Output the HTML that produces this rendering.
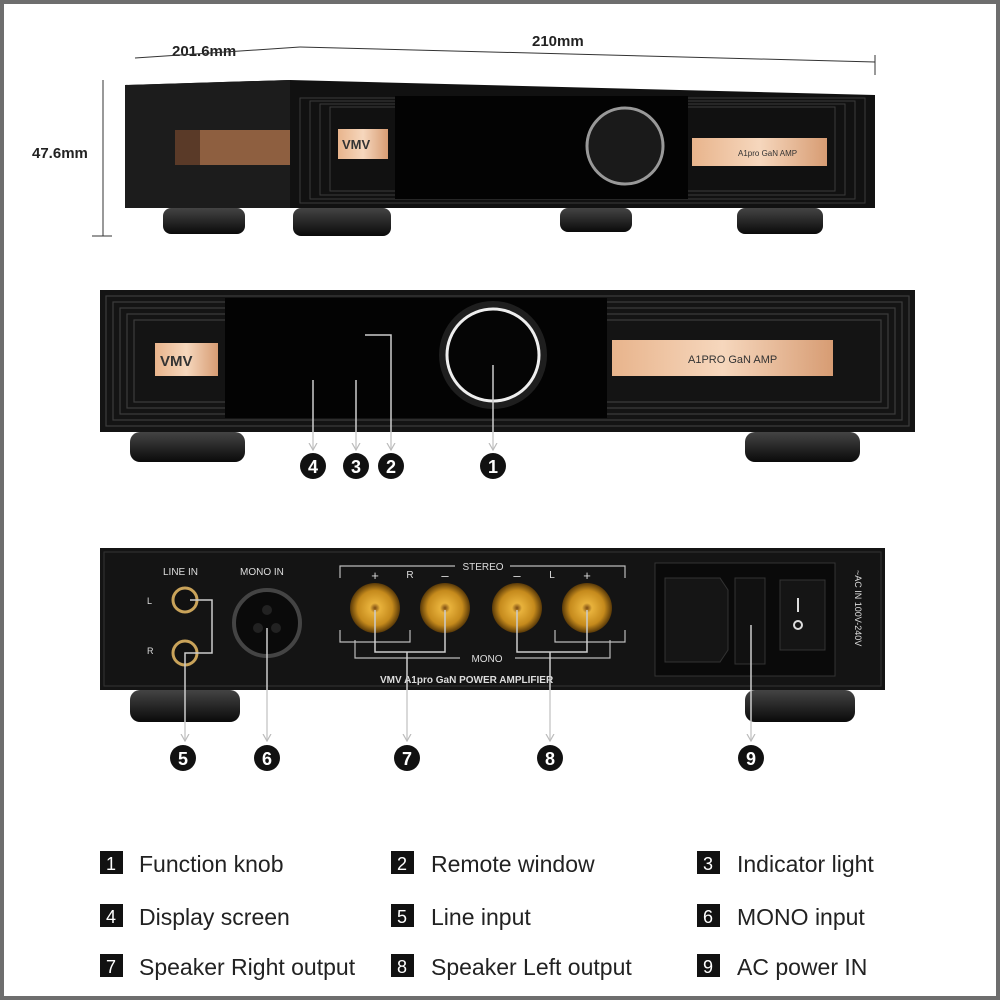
<!DOCTYPE html>
<html><head><meta charset="utf-8"><style>
html,body{margin:0;padding:0;background:#fff}
svg{display:block}
text{font-family:"Liberation Sans",sans-serif}
</style></head><body>
<svg width="1000" height="1000" viewBox="0 0 1000 1000" xmlns="http://www.w3.org/2000/svg">
<defs>
<linearGradient id="gold" x1="0" y1="0" x2="1" y2="0"><stop offset="0" stop-color="#e8b48c"/><stop offset="0.5" stop-color="#f6d7bd"/><stop offset="1" stop-color="#d79c73"/></linearGradient>
<radialGradient id="post" cx="0.5" cy="0.5" r="0.5"><stop offset="0" stop-color="#7a4a12"/><stop offset="0.2" stop-color="#e8b23c"/><stop offset="0.7" stop-color="#c58a1c"/><stop offset="1" stop-color="#5a3a08"/></radialGradient>
<linearGradient id="foot" x1="0" y1="0" x2="0" y2="1"><stop offset="0" stop-color="#444"/><stop offset="1" stop-color="#0a0a0a"/></linearGradient>
<marker id="ar" markerWidth="8" markerHeight="10" refX="7" refY="5" orient="auto" markerUnits="userSpaceOnUse"><path d="M0,1 L7,5 L0,9" fill="none" stroke="#bbb" stroke-width="1.2"/></marker>
</defs>
<rect x="0" y="0" width="1000" height="1000" fill="#fff"/>
<rect x="2" y="2" width="996" height="996" fill="none" stroke="#6e6e6e" stroke-width="4"/>

<!-- dimensions -->
<text x="172" y="56" font-size="15" font-weight="bold" fill="#222">201.6mm</text>
<text x="532" y="46" font-size="15" font-weight="bold" fill="#222">210mm</text>
<text x="32" y="158" font-size="15" font-weight="bold" fill="#222">47.6mm</text>
<line x1="300" y1="47" x2="875" y2="62" stroke="#333" stroke-width="1"/>
<line x1="875" y1="55" x2="875" y2="75" stroke="#333"/>
<line x1="135" y1="58" x2="300" y2="47" stroke="#333"/>
<line x1="103" y1="80" x2="103" y2="236" stroke="#333"/>
<line x1="92" y1="236" x2="112" y2="236" stroke="#333"/>

<!-- top device -->
<polygon points="125,85 290,80 875,95 875,208 290,208 125,208" fill="#111"/>
<polygon points="125,85 290,80 290,208 125,208" fill="#1c1c1c"/>
<rect x="175" y="130" width="115" height="35" fill="#5a3a28"/>
<rect x="200" y="130" width="90" height="35" fill="#b07850" opacity="0.6"/>
<g fill="none" stroke="#3a3a3a" stroke-width="1">
<rect x="300" y="98" width="565" height="105"/><rect x="310" y="101" width="545" height="98"/><rect x="320" y="104" width="525" height="91"/><rect x="330" y="107" width="505" height="84"/>
</g>
<rect x="395" y="96" width="293" height="103" fill="#030303"/>
<circle cx="625" cy="146" r="38" fill="#1a1a1a" stroke="#999" stroke-width="3"/>
<rect x="338" y="129" width="50" height="30" fill="url(#gold)"/>
<text x="342" y="149" font-size="13" font-weight="bold" fill="#333">VMV</text>
<rect x="692" y="138" width="135" height="28" fill="url(#gold)"/>
<text x="738" y="156" font-size="8" fill="#333">A1pro GaN AMP</text>
<g fill="url(#foot)">
<rect x="163" y="208" width="82" height="26" rx="8"/><rect x="293" y="208" width="98" height="28" rx="8"/><rect x="560" y="208" width="72" height="24" rx="8"/><rect x="737" y="208" width="86" height="26" rx="8"/>
</g>

<!-- middle device -->
<rect x="100" y="290" width="815" height="142" fill="#141414"/>
<g fill="none" stroke="#3c3c3c" stroke-width="1.2">
<rect x="106" y="296" width="803" height="130"/><rect x="113" y="302" width="789" height="118"/><rect x="120" y="308" width="775" height="106"/><rect x="127" y="314" width="761" height="94"/><rect x="134" y="320" width="747" height="82"/>
</g>
<rect x="225" y="298" width="382" height="120" fill="#030303"/>
<circle cx="493" cy="355" r="54" fill="#1e1e1e"/>
<circle cx="493" cy="355" r="46" fill="#050505" stroke="#eee" stroke-width="3"/>
<rect x="155" y="343" width="63" height="33" fill="url(#gold)"/>
<text x="160" y="366" font-size="15" font-weight="bold" fill="#333">VMV</text>
<rect x="612" y="340" width="221" height="36" fill="url(#gold)"/>
<text x="688" y="363" font-size="11" fill="#333">A1PRO GaN AMP</text>
<rect x="130" y="432" width="115" height="30" rx="10" fill="url(#foot)"/>
<rect x="745" y="432" width="115" height="30" rx="10" fill="url(#foot)"/>
<g stroke="#ccc" stroke-width="1.5" fill="none">
<line x1="313" y1="380" x2="313" y2="450" marker-end="url(#ar)"/>
<line x1="356" y1="380" x2="356" y2="450" marker-end="url(#ar)"/>
<polyline points="365,335 391,335 391,450" marker-end="url(#ar)"/>
<line x1="493" y1="365" x2="493" y2="450" marker-end="url(#ar)"/>
</g>
<g font-size="18" font-weight="bold" fill="#fff" text-anchor="middle">
<circle cx="313" cy="466" r="13" fill="#111"/><text x="313" y="473">4</text>
<circle cx="356" cy="466" r="13" fill="#111"/><text x="356" y="473">3</text>
<circle cx="391" cy="466" r="13" fill="#111"/><text x="391" y="473">2</text>
<circle cx="493" cy="466" r="13" fill="#111"/><text x="493" y="473">1</text>
</g>

<!-- back device -->
<rect x="100" y="548" width="785" height="142" fill="#141414"/>
<rect x="104" y="552" width="777" height="134" fill="none" stroke="#333"/>
<text x="163" y="575" font-size="10" fill="#ddd">LINE IN</text>
<text x="240" y="575" font-size="10" fill="#ddd">MONO IN</text>
<text x="147" y="604" font-size="9" fill="#ddd">L</text>
<text x="147" y="654" font-size="9" fill="#ddd">R</text>
<circle cx="185" cy="600" r="12" fill="#111" stroke="#c9a35a" stroke-width="3"/>
<circle cx="185" cy="653" r="12" fill="#111" stroke="#c9a35a" stroke-width="3"/>
<circle cx="267" cy="623" r="33" fill="#0a0a0a" stroke="#444" stroke-width="4"/>
<circle cx="258" cy="628" r="5" fill="#222"/><circle cx="276" cy="628" r="5" fill="#222"/><circle cx="267" cy="610" r="5" fill="#222"/>
<g fill="none" stroke="#bbb" stroke-width="1.2">
<path d="M340,578 V566 H455"/><path d="M510,566 H625 V578"/>
<path d="M355,640 V658 H460"/><path d="M515,658 H610 V640"/>
<path d="M340,630 V642 H410 V630"/><path d="M555,630 V642 H625 V630"/>
</g>
<text x="483" y="570" font-size="10" fill="#ddd" text-anchor="middle">STEREO</text>
<text x="487" y="662" font-size="10" fill="#ddd" text-anchor="middle">MONO</text>
<g font-size="13" fill="#ddd" text-anchor="middle"><text x="375" y="580">+</text><text x="410" y="578" font-size="10">R</text><text x="445" y="580">–</text><text x="517" y="580">–</text><text x="552" y="578" font-size="10">L</text><text x="587" y="580">+</text></g>
<g><circle cx="375" cy="608" r="25" fill="url(#post)"/><circle cx="445" cy="608" r="25" fill="url(#post)"/><circle cx="517" cy="608" r="25" fill="url(#post)"/><circle cx="587" cy="608" r="25" fill="url(#post)"/></g>
<text x="380" y="683" font-size="10" font-weight="bold" fill="#ddd">VMV A1pro GaN POWER AMPLIFIER</text>
<rect x="655" y="563" width="180" height="113" fill="#0a0a0a" stroke="#333"/>
<path d="M665,578 H720 L728,590 V650 L720,662 H665 Z" fill="#151515" stroke="#333"/>
<rect x="735" y="578" width="30" height="86" fill="#111" stroke="#333"/>
<rect x="780" y="580" width="45" height="70" fill="#151515" stroke="#333"/>
<line x1="798" y1="598" x2="798" y2="612" stroke="#ddd" stroke-width="2"/>
<circle cx="798" cy="625" r="4" fill="none" stroke="#ddd" stroke-width="2"/>
<text x="855" y="570" font-size="9" fill="#ddd" transform="rotate(90 855 570)">~AC IN 100V-240V</text>
<rect x="130" y="690" width="110" height="32" rx="10" fill="url(#foot)"/>
<rect x="745" y="690" width="110" height="32" rx="10" fill="url(#foot)"/>
<g stroke="#ccc" stroke-width="1.5" fill="none">
<polyline points="190,600 212,600 212,653 185,653 185,741" marker-end="url(#ar)"/>
<line x1="267" y1="628" x2="267" y2="741" marker-end="url(#ar)"/>
<polyline points="375,610 375,652 445,652 445,610"/><line x1="407" y1="652" x2="407" y2="741" marker-end="url(#ar)"/>
<polyline points="517,610 517,652 587,652 587,610"/><line x1="550" y1="652" x2="550" y2="741" marker-end="url(#ar)"/>
<line x1="751" y1="625" x2="751" y2="741" marker-end="url(#ar)"/>
</g>
<g font-size="18" font-weight="bold" fill="#fff" text-anchor="middle">
<circle cx="183" cy="758" r="13" fill="#111"/><text x="183" y="765">5</text>
<circle cx="267" cy="758" r="13" fill="#111"/><text x="267" y="765">6</text>
<circle cx="407" cy="758" r="13" fill="#111"/><text x="407" y="765">7</text>
<circle cx="550" cy="758" r="13" fill="#111"/><text x="550" y="765">8</text>
<circle cx="751" cy="758" r="13" fill="#111"/><text x="751" y="765">9</text>
</g>

<!-- legend -->
<g font-size="23" fill="#222">
<rect x="100" y="851" width="23" height="23" fill="#111"/><text x="111" y="870" fill="#fff" font-size="18" text-anchor="middle">1</text><text x="139" y="872">Function knob</text>
<rect x="391" y="851" width="23" height="23" fill="#111"/><text x="402" y="870" fill="#fff" font-size="18" text-anchor="middle">2</text><text x="431" y="872">Remote window</text>
<rect x="697" y="851" width="23" height="23" fill="#111"/><text x="708" y="870" fill="#fff" font-size="18" text-anchor="middle">3</text><text x="737" y="872">Indicator light</text>
<rect x="100" y="904" width="23" height="23" fill="#111"/><text x="111" y="923" fill="#fff" font-size="18" text-anchor="middle">4</text><text x="139" y="925">Display screen</text>
<rect x="391" y="904" width="23" height="23" fill="#111"/><text x="402" y="923" fill="#fff" font-size="18" text-anchor="middle">5</text><text x="431" y="925">Line input</text>
<rect x="697" y="904" width="23" height="23" fill="#111"/><text x="708" y="923" fill="#fff" font-size="18" text-anchor="middle">6</text><text x="737" y="925">MONO input</text>
<rect x="100" y="954" width="23" height="23" fill="#111"/><text x="111" y="973" fill="#fff" font-size="18" text-anchor="middle">7</text><text x="139" y="975">Speaker Right output</text>
<rect x="391" y="954" width="23" height="23" fill="#111"/><text x="402" y="973" fill="#fff" font-size="18" text-anchor="middle">8</text><text x="431" y="975">Speaker Left output</text>
<rect x="697" y="954" width="23" height="23" fill="#111"/><text x="708" y="973" fill="#fff" font-size="18" text-anchor="middle">9</text><text x="737" y="975">AC power IN</text>
</g>
</svg>
</body></html>
